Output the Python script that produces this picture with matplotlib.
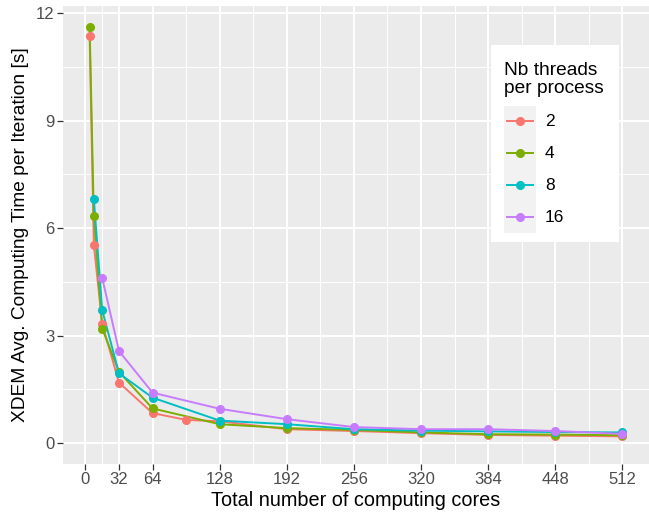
import numpy as np
import matplotlib
matplotlib.use("Agg")
import matplotlib.pyplot as plt
from matplotlib.lines import Line2D
from matplotlib.patches import Rectangle

# valeurs
threads = ["2", "4", "8", "16"]
colors = ["#F8766D", "#7CAE00", "#00BFC4", "#C77CFF"]

cores_2 = [4, 8, 16, 32, 64, 96, 128, 192, 256, 320, 384, 448, 512]
time_2 = [11.35, 5.54, 3.33, 1.69, 0.84, 0.65, 0.61, 0.39, 0.34, 0.28, 0.23, 0.21, 0.19]

cores_4 = [4, 8, 16, 32, 64, 128, 192, 256, 320, 384, 448, 512]
time_4 = [11.62, 6.33, 3.20, 1.99, 0.97, 0.53, 0.42, 0.37, 0.30, 0.25, 0.24, 0.22]

cores_8 = [8, 16, 32, 64, 128, 192, 256, 320, 384, 448, 512]
time_8 = [6.82, 3.71, 1.95, 1.27, 0.63, 0.53, 0.39, 0.35, 0.33, 0.31, 0.30]

cores_16 = [16, 32, 64, 128, 192, 256, 320, 384, 448, 512]
time_16 = [4.61, 2.57, 1.41, 0.96, 0.67, 0.45, 0.39, 0.39, 0.34, 0.26]

x_ticks = [0, 32, 64, 128, 192, 256, 320, 384, 448, 512]
y_ticks = [0, 3, 6, 9, 12]

series = [(cores_2, time_2), (cores_4, time_4), (cores_8, time_8), (cores_16, time_16)]

W, H = 649, 519
FONT = ["Liberation Sans", "DejaVu Sans"]
plt.rcParams["font.family"] = FONT


def px(x, y):
    return x / W, 1 - y / H


fig = plt.figure(figsize=(W / 100, H / 100), dpi=100)
ax = fig.add_axes([63 / W, 1 - 464 / H, (W - 63) / W, (464 - 6) / H])
ax.set_facecolor("#EBEBEB")
for s in ax.spines.values():
    s.set_visible(False)

# limites avec expansion de 5 % (style ggplot)
xmin, xmax = 4, 512
xr = xmax - xmin
ax.set_xlim(xmin - 0.05 * xr, xmax + 0.05 * xr)
ymax = max(time_4)
ax.set_ylim(-0.05 * ymax, ymax * 1.05)

ax.set_xticks(x_ticks)
ax.set_yticks(y_ticks)
minor_x = [16] + list(np.arange(96, 512, 64))
ax.set_xticks(minor_x, minor=True)
ax.set_yticks([1.5, 4.5, 7.5, 10.5], minor=True)
ax.grid(which="major", color="white", linewidth=1.4)
ax.grid(which="minor", color="white", linewidth=0.7)
ax.set_axisbelow(True)
ax.tick_params(which="major", length=4, width=0.9, color="#333333",
               labelcolor="#4D4D4D", labelsize=12, pad=2)
ax.tick_params(which="minor", length=0)

for (xs, ys), c in zip(series, colors):
    ax.plot(xs, ys, color=c, linewidth=1.4, zorder=2)
for (xs, ys), c in zip(series, colors):
    ax.plot(xs, ys, linestyle="none", marker="o", markersize=5.5,
            color=c, zorder=3)

ax.set_xlabel("Total number of computing cores", fontsize=14.3, labelpad=3)
ax.set_ylabel("XDEM Avg. Computing Time per Iteration [s]", fontsize=13.8,
              labelpad=5)

# légende dessinée à la main (style ggplot)
fig.add_artist(Rectangle(px(491, 242), 128 / W, (242 - 45) / H,
                         transform=fig.transFigure, facecolor="white",
                         edgecolor="none", zorder=5))
fig.add_artist(Rectangle(px(504, 233), 32 / W, (233 - 106) / H,
                         transform=fig.transFigure, facecolor="#F2F2F2",
                         edgecolor="none", zorder=6))
fig.text(*px(504, 93), "Nb threads\nper process", fontsize=13.8,
         ha="left", va="baseline", linespacing=1.1, zorder=7)
key_y = [121, 153, 185, 217]
for lab, c, ky in zip(threads, colors, key_y):
    x0, y0 = px(507, ky)
    x1, _ = px(533, ky)
    xm, _ = px(520, ky)
    fig.add_artist(Line2D([x0, x1], [y0, y0], transform=fig.transFigure,
                          color=c, linewidth=1.4, zorder=7))
    fig.add_artist(Line2D([xm], [y0], transform=fig.transFigure, color=c,
                          marker="o", markersize=5.5, zorder=8))
    fig.text(*px(545, ky), lab, fontsize=12.5, ha="left", va="center",
             zorder=8)

fig.savefig("out.png", dpi=100)
